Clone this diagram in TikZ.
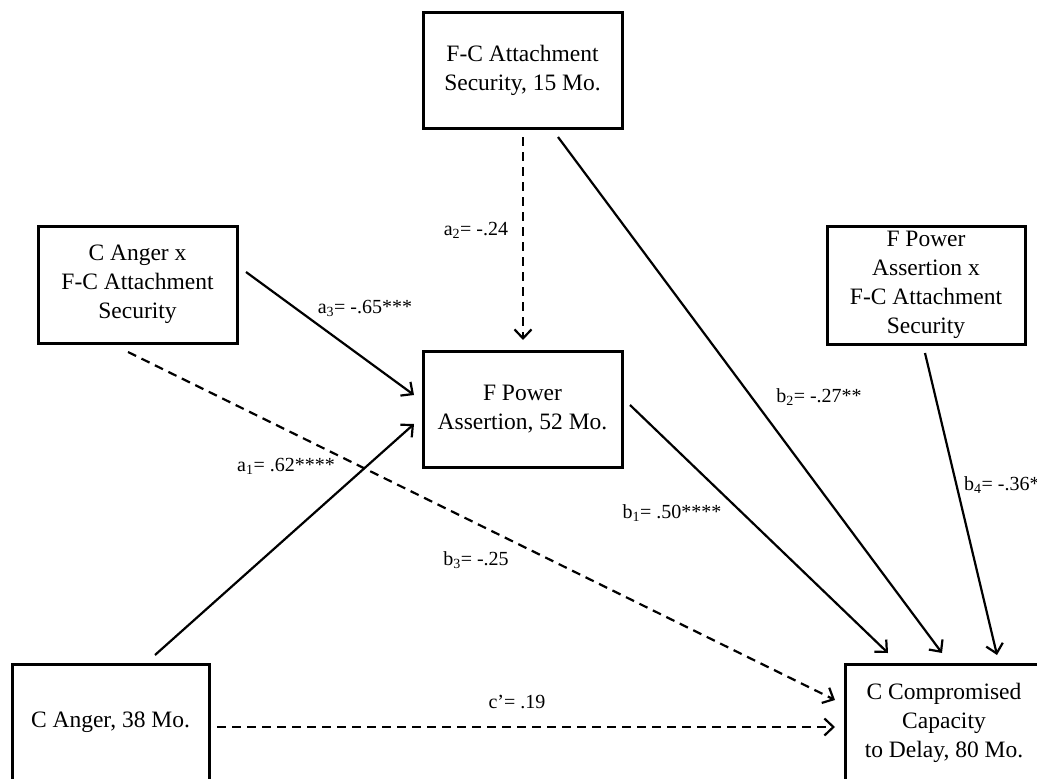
\documentclass[tikz,border=0pt]{standalone}
\usepackage{fontspec}
\setmainfont{Liberation Serif}
\usetikzlibrary{arrows.meta,calc}
\begin{document}
\begin{tikzpicture}[x=1pt,y=-1pt,
  box/.style={draw, line width=3pt, minimum width=199pt, minimum height=116pt,
    inner sep=0pt, outer sep=0pt, align=center,
    font=\fontsize{23.5}{29}\selectfont},
  lbl/.style={font=\fontsize{20}{24}\selectfont, inner sep=0pt},
  link/.style={line width=2.2pt,
    -{Straight Barb[length=9pt,width=17pt,line width=2.2pt]}},
  dlink/.style={link, dash pattern=on 9pt off 6pt},
]
\useasboundingbox (0,0) rectangle (1037,779);
\fill[white] (0,0) rectangle (1037,779);

% variables
\node[box] (fcas) at (522.5,70)  {F-C Attachment\\Security, 15 Mo.};
\node[box, minimum height=117pt] (cax) at (137.5,284.5) {C Anger x\\F-C Attachment\\Security};
\node[box, minimum width=198pt, minimum height=118pt] (fpax) at (926,285) {F Power\\Assertion x\\F-C Attachment\\Security};
\node[box] (fpa) at (522.5,409) {F Power\\Assertion, 52 Mo.};
\node[box, minimum width=197pt, minimum height=117pt] (ca) at (110.5,722.5) {C Anger, 38 Mo.};
\node[box, minimum width=198pt, minimum height=117pt] (ccd) at (944,722.5) {C Compromised\\Capacity\\to Delay, 80 Mo.};

% paths into the mediator
\draw[link]  ($(cax.east)+(9,-12.5)$) -- ($(fpa.west)+(-9,-14)$);
\draw[link]  ($(ca.north)+(44.5,-9)$) -- ($(fpa.west)+(-9,15)$);
\draw[dlink] ($(fcas.south)+(0.5,9)$) -- ($(fpa.north)+(0.5,-11)$);

% paths into the outcome
\draw[link]  ($(fcas.south)+(35.5,9)$) -- ($(ccd.north)+(-2,-11)$);
\draw[link]  ($(fpa.east)+(8,-4)$) -- ($(ccd.north)+(-56,-11)$);
\draw[link]  ($(fpax.south)+(-1,9)$) -- ($(ccd.north)+(53,-9)$);
\draw[dlink] ($(cax.south)+(-9.5,9)$) -- ($(ccd.west)+(-10,-22.5)$);
\draw[dlink] ($(ca.east)+(8,4.5)$) -- ($(ccd.west)+(-10,4.5)$);

% coefficients
\node[lbl] (la3) at (365,308) {a\textsubscript{3}= -.65***};
\node[lbl] (la2) at (476,230) {a\textsubscript{2}= -.24};
\node[lbl] (la1) at (286,466) {a\textsubscript{1}= .62****};
\node[lbl] (lb3) at (476,560) {b\textsubscript{3}= -.25};
\node[lbl] (lc)  at (517,702) {c’= .19};
\node[lbl] (lb1) at (672,513) {b\textsubscript{1}= .50****};
\node[lbl] (lb2) at (819,397) {b\textsubscript{2}= -.27**};
\node[lbl, anchor=west] (lb4) at (964,485) {b\textsubscript{4}= -.36*};
\end{tikzpicture}
\end{document}
